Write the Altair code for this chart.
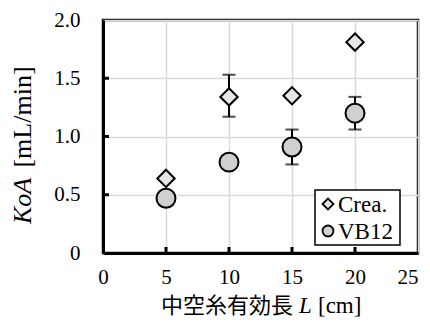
import altair as alt
import pandas as pd

# Data
series_names = ["Crea.", "VB12"]
series = ["Crea.", "Crea.", "Crea.", "Crea.", "VB12", "VB12", "VB12", "VB12"]
length_cm = [5, 10, 15, 20, 5, 10, 15, 20]
koa = [0.64, 1.34, 1.35, 1.81, 0.47, 0.78, 0.91, 1.20]
err_lo = [0.64, 1.17, 1.35, 1.81, 0.47, 0.78, 0.76, 1.06]
err_hi = [0.64, 1.53, 1.35, 1.81, 0.47, 0.78, 1.06, 1.34]

x_ticks = [0, 5, 10, 15, 20, 25]
y_ticks = [0, 0.5, 1.0, 1.5, 2.0]
inner_x_ticks = [5, 10, 15, 20]
inner_y_ticks = [0.5, 1.0, 1.5]

df = pd.DataFrame({"series": series, "L": length_cm, "KoA": koa, "lo": err_lo, "hi": err_hi})
err_df = df[df["lo"] != df["hi"]]

W, H = 315, 233
SERIF = "Liberation Serif"
CJK = "Noto Sans CJK JP"

xs = alt.Scale(domain=[0, 25], nice=False)
ys = alt.Scale(domain=[0, 2.0], nice=False)
shape_scale = alt.Scale(domain=series_names, range=["diamond", "circle"])
fill_scale = alt.Scale(domain=series_names, range=["#e6e6e6", "#d0d0d0"])

x_axis = alt.Axis(values=x_ticks, title=None, labelPadding=13,
                  labelAlign=alt.ExprRef("datum.value == 25 ? 'right' : 'center'"))
y_axis = alt.Axis(values=y_ticks, title=None, labelPadding=23,
                  labelExpr="datum.value == 0 ? '0' : format(datum.value, '.1f')")


def X(field):
    return alt.X(field, type="quantitative", scale=xs, axis=x_axis)


def Y(field):
    return alt.Y(field, type="quantitative", scale=ys, axis=y_axis)


errbars = alt.Chart(err_df).mark_rule(color="black", strokeWidth=2).encode(
    x=X("L"), y=Y("lo"), y2="hi")
caps_lo = alt.Chart(err_df).mark_tick(color="black", thickness=2, size=13, orient="horizontal").encode(
    x=X("L"), y=Y("lo"))
caps_hi = alt.Chart(err_df).mark_tick(color="black", thickness=2, size=13, orient="horizontal").encode(
    x=X("L"), y=Y("hi"))

points = alt.Chart(df).mark_point(filled=True, stroke="black", strokeWidth=2, opacity=1).encode(
    x=X("L"),
    y=Y("KoA"),
    shape=alt.Shape("series:N", scale=shape_scale, legend=None),
    fill=alt.Fill("series:N", scale=fill_scale, legend=None),
    size=alt.Size("series:N", scale=alt.Scale(domain=series_names, range=[300, 360]), legend=None),
)

xt = alt.Chart(pd.DataFrame({"t": inner_x_ticks})).mark_rule(color="black", strokeWidth=3).encode(
    x=X("t"), y=alt.value(H), y2=alt.value(H - 6))
yt = alt.Chart(pd.DataFrame({"t": inner_y_ticks})).mark_rule(color="black", strokeWidth=3).encode(
    y=Y("t"), x=alt.value(0), x2=alt.value(6))

# Legend (manual)
one = pd.DataFrame({"a": [0]})
leg_box = alt.Chart(one).mark_rect(fill="white", stroke="black", strokeWidth=1.5).encode(
    x=alt.value(212), x2=alt.value(297), y=alt.value(170), y2=alt.value(225))
leg_items = []
for i, name in enumerate(series_names):
    d = pd.DataFrame({"series": [name]})
    yc = 184 + i * 27
    leg_items.append(alt.Chart(d).mark_point(filled=True, stroke="black", strokeWidth=1.8, opacity=1, size=120).encode(
        x=alt.value(225), y=alt.value(yc),
        shape=alt.Shape("series:N", scale=shape_scale, legend=None),
        fill=alt.Fill("series:N", scale=fill_scale, legend=None)))
    leg_items.append(alt.Chart(d).mark_text(font=SERIF, fontSize=23, align="left", baseline="middle", color="black").encode(
        x=alt.value(235), y=alt.value(yc + 1), text="series:N"))

# Axis titles
TB = 293
xt1 = alt.Chart(one).mark_text(font=CJK, fontSize=22, align="right", baseline="alphabetic", color="black").encode(
    x=alt.value(190), y=alt.value(TB), text=alt.value("中空糸有効長"))
xt2 = alt.Chart(one).mark_text(font=SERIF, fontSize=23, fontStyle="italic", align="left", baseline="alphabetic", color="black").encode(
    x=alt.value(196), y=alt.value(TB), text=alt.value("L"))
xt3 = alt.Chart(one).mark_text(font=SERIF, fontSize=23, align="left", baseline="alphabetic", color="black").encode(
    x=alt.value(215), y=alt.value(TB), text=alt.value("[cm]"))
yt1 = alt.Chart(one).mark_text(font=SERIF, fontSize=26, fontStyle="italic", angle=270, align="center", baseline="alphabetic", color="black").encode(
    x=alt.value(-72), y=alt.value(181), text=alt.value("KoA"))
yt2 = alt.Chart(one).mark_text(font=SERIF, fontSize=26, angle=270, align="center", baseline="alphabetic", color="black").encode(
    x=alt.value(-72), y=alt.value(97), text=alt.value("[mL/min]"))

chart = alt.layer(errbars, caps_lo, caps_hi, points, xt, yt, leg_box, *leg_items,
                  xt1, xt2, xt3, yt1, yt2).properties(
    width=W, height=H,
    background="white",
    autosize=alt.AutoSizeParams(type="none"),
    padding={"left": 95, "top": 12, "right": 4, "bottom": 66},
).configure_view(stroke="black", strokeWidth=2.5).configure_axis(
    grid=True, gridColor="#d9d9d9", gridWidth=1.5, tickSize=0,
    labelFont=SERIF, labelFontSize=21, labelColor="black",
    domainColor="black", domainWidth=3, labelFlush=False,
)

chart.save("out.html", embed_options={"renderer": "svg", "actions": False})
